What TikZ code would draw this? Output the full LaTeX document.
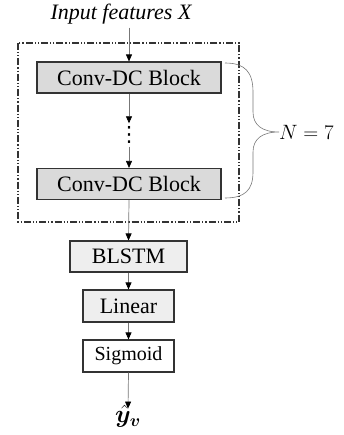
\documentclass[tikz,border=0pt]{standalone}
\usepackage{fontspec}
\usepackage{amsmath,bm}
\setmainfont{Liberation Serif}
\newfontfamily\symfont{DejaVu Sans}
\usetikzlibrary{arrows.meta}
\definecolor{convfill}{HTML}{DADADA}
\definecolor{lightfill}{HTML}{EEEEEE}
\definecolor{edge}{HTML}{333333}
\definecolor{conn}{HTML}{777777}
\begin{document}
\begin{tikzpicture}[x=1pt,y=-1pt,
  blockbox/.style={draw=edge,line width=1.1pt,minimum height=31pt,inner sep=0pt,font=\fontsize{22}{26}\selectfont},
  flow/.style={draw=conn,line width=0.7pt,-{Triangle[width=6pt,length=7pt,fill=black,color=black]}},
  groupbox/.style={draw=edge,line width=1.1pt,dash pattern=on 7pt off 2pt on 1.2pt off 2pt on 1.2pt off 2pt},
  bracestyle/.style={draw=conn,line width=0.6pt}]
\useasboundingbox (0,0) rectangle (343,435);
\node[font=\fontsize{22}{26}\selectfont\itshape] (input) at (121,14) {Input features X};
\draw[groupbox] (18,43) rectangle (239,222);
\node[blockbox,fill=convfill,minimum width=184pt] (c1) at (129,77.5) {Conv-DC Block};
\node[inner ysep=3pt,inner xsep=0pt,font=\fontsize{21}{25}\symfont] (dots) at (129,135) {⋮};
\node[blockbox,fill=convfill,minimum width=184pt] (c2) at (129,184) {Conv-DC Block};
\node[blockbox,fill=lightfill,minimum width=117pt] (bl) at (128.5,256.5) {BLSTM};
\node[blockbox,fill=lightfill,minimum width=91pt,minimum height=32pt] (lin) at (128.5,306) {Linear};
\node[blockbox,fill=white,minimum width=91pt,minimum height=32pt,font=\fontsize{20}{24}\selectfont] (sig) at (128.5,356) {Sigmoid};
\node[inner sep=0pt,font=\fontsize{25}{29}\selectfont] (out) at (128,416) {$\hat{\bm{y}}_{\bm{v}}$};
\node[inner sep=0pt,font=\fontsize{22}{26}\selectfont,anchor=west] (nn) at (279,132) {$N=7$};
\draw[flow] (input.south -| c1.north) -- (c1.north);
\draw[flow] (c1.south) -- (dots.north);
\draw[flow] (dots.south) -- (c2.north);
\draw[flow] (c2.south) -- (bl.north);
\draw[flow] (bl.south) -- (lin.north);
\draw[flow] (lin.south) -- (sig.north);
\draw[flow] (sig.south) -- ([yshift=-4pt]out.north);
\coordinate (bt) at (225,63);
\coordinate (bb) at (225,198);
\draw[bracestyle] (bt) .. controls (245,63) and (253,72) .. (253,92) -- (253,112) .. controls (253,125) and (262,132) .. (nn.west)
  .. controls (262,132) and (253,139) .. (253,152) -- (253,172) .. controls (253,190) and (245,198) .. (bb);
\end{tikzpicture}
\end{document}
